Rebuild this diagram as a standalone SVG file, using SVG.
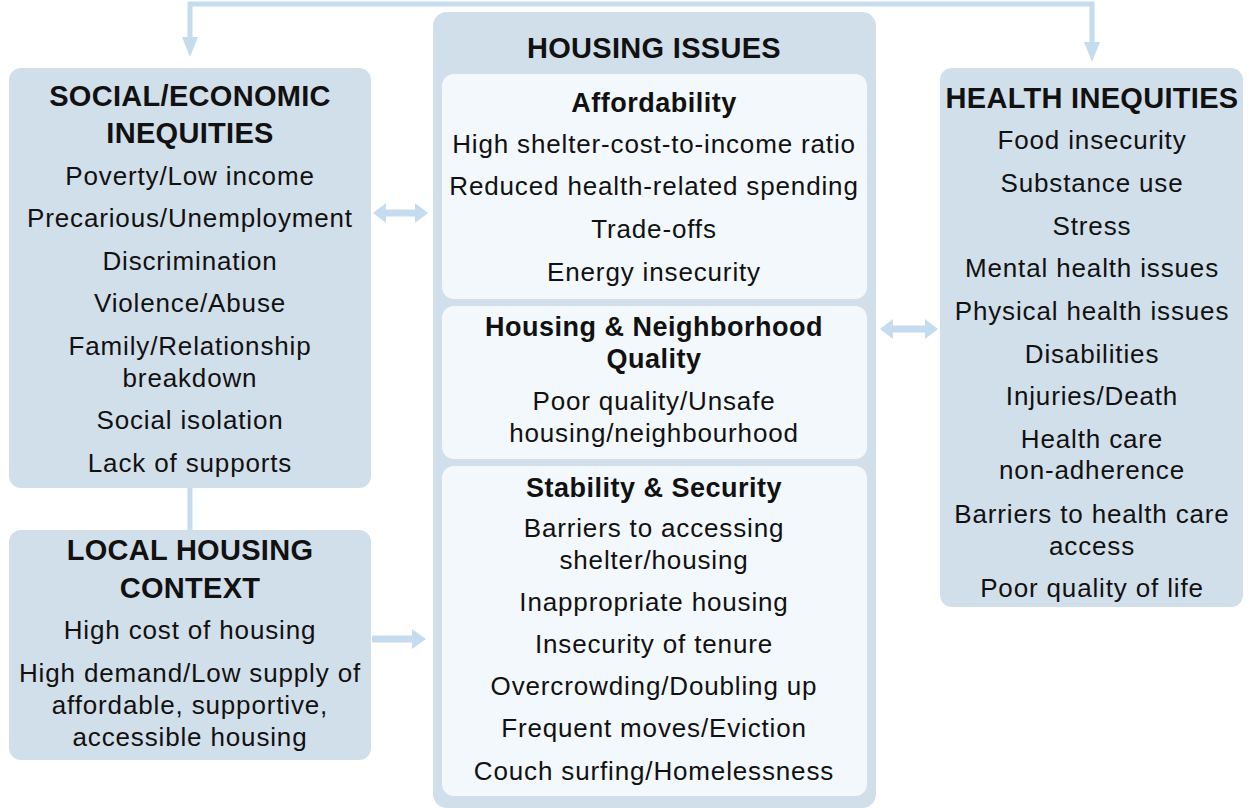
<svg xmlns="http://www.w3.org/2000/svg" width="1249" height="808" viewBox="0 0 1249 808">
<style>
.outer{fill:#d1dfea}
.inner{fill:#f3f8fd}
.t{font-family:"Liberation Sans",Arial,sans-serif;font-size:26px;letter-spacing:0.85px;fill:#111;text-anchor:middle}
.h{font-family:"Liberation Sans",Arial,sans-serif;font-size:29px;font-weight:bold;letter-spacing:0.3px;fill:#111;text-anchor:middle}
.s{font-family:"Liberation Sans",Arial,sans-serif;font-size:27px;font-weight:bold;letter-spacing:0.5px;fill:#111;text-anchor:middle}
.c{fill:none;stroke:#c5dcef;stroke-width:5}
.a{fill:#c5dcef}
</style>
<g id="connectors">
<path class="c" d="M190,45 V4 H1092 V48"/>
<polygon class="a" points="182,37 198,37 190,57"/>
<polygon class="a" points="1084,42 1100,42 1092,62"/>
<line class="c" x1="190" y1="486" x2="190" y2="532"/>
<polygon class="a" points="373,213 386,203 386,209.5 415,209.5 415,203 428,213 415,223 415,216.5 386,216.5 386,223"/>
<polygon class="a" points="880,329 893,319 893,325.5 925,325.5 925,319 938,329 925,339 925,332.5 893,332.5 893,339"/>
<polygon class="a" points="372,635.5 412,635.5 412,629 426,639 412,649 412,642.5 372,642.5"/>
</g>
<g id="social">
<rect class="outer" x="9" y="68" width="362" height="420" rx="12"/>
<text class="h" x="190" y="106">SOCIAL/ECONOMIC</text>
<text class="h" x="190" y="143">INEQUITIES</text>
<text class="t" x="190" y="184.5">Poverty/Low income</text>
<text class="t" x="190" y="226.5">Precarious/Unemployment</text>
<text class="t" x="190" y="269.5">Discrimination</text>
<text class="t" x="190" y="311.5">Violence/Abuse</text>
<text class="t" x="190" y="354.5">Family/Relationship</text>
<text class="t" x="190" y="386.5">breakdown</text>
<text class="t" x="190" y="428.5">Social isolation</text>
<text class="t" x="190" y="471.5">Lack of supports</text>
</g>
<g id="local">
<rect class="outer" x="9" y="530" width="362" height="230" rx="12"/>
<text class="h" x="190" y="560">LOCAL HOUSING</text>
<text class="h" x="190" y="598">CONTEXT</text>
<text class="t" x="190" y="638.5">High cost of housing</text>
<text class="t" x="190" y="681.5">High demand/Low supply of</text>
<text class="t" x="190" y="713.5">affordable, supportive,</text>
<text class="t" x="190" y="745.5">accessible housing</text>
</g>
<g id="housing">
<rect class="outer" x="433" y="12" width="443" height="796" rx="14"/>
<text class="h" x="654" y="58">HOUSING ISSUES</text>
</g>
<g id="affordability">
<rect class="inner" x="442" y="74" width="425" height="225" rx="12"/>
<text class="s" x="654" y="112">Affordability</text>
<text class="t" x="654" y="152.5">High shelter-cost-to-income ratio</text>
<text class="t" x="654" y="194.5">Reduced health-related spending</text>
<text class="t" x="654" y="237.5">Trade-offs</text>
<text class="t" x="654" y="280.5">Energy insecurity</text>
</g>
<g id="quality">
<rect class="inner" x="442" y="306" width="425" height="153" rx="12"/>
<text class="s" x="654" y="336">Housing &amp; Neighborhood</text>
<text class="s" x="654" y="368">Quality</text>
<text class="t" x="654" y="409.5">Poor quality/Unsafe</text>
<text class="t" x="654" y="441.5">housing/neighbourhood</text>
</g>
<g id="stability">
<rect class="inner" x="442" y="466" width="425" height="330" rx="12"/>
<text class="s" x="654" y="497">Stability &amp; Security</text>
<text class="t" x="654" y="536.5">Barriers to accessing</text>
<text class="t" x="654" y="568.5">shelter/housing</text>
<text class="t" x="654" y="610.5">Inappropriate housing</text>
<text class="t" x="654" y="652.5">Insecurity of tenure</text>
<text class="t" x="654" y="694.5">Overcrowding/Doubling up</text>
<text class="t" x="654" y="736.5">Frequent moves/Eviction</text>
<text class="t" x="654" y="779.5">Couch surfing/Homelessness</text>
</g>
<g id="health">
<rect class="outer" x="940" y="68" width="303" height="539" rx="12"/>
<text class="h" x="1092" y="108">HEALTH INEQUITIES</text>
<text class="t" x="1092" y="148.5">Food insecurity</text>
<text class="t" x="1092" y="191.5">Substance use</text>
<text class="t" x="1092" y="234.5">Stress</text>
<text class="t" x="1092" y="276.5">Mental health issues</text>
<text class="t" x="1092" y="319.5">Physical health issues</text>
<text class="t" x="1092" y="362.5">Disabilities</text>
<text class="t" x="1092" y="404.5">Injuries/Death</text>
<text class="t" x="1092" y="447.5">Health care</text>
<text class="t" x="1092" y="478.5">non-adherence</text>
<text class="t" x="1092" y="522.5">Barriers to health care</text>
<text class="t" x="1092" y="554.5">access</text>
<text class="t" x="1092" y="596.5">Poor quality of life</text>
</g>
</svg>
